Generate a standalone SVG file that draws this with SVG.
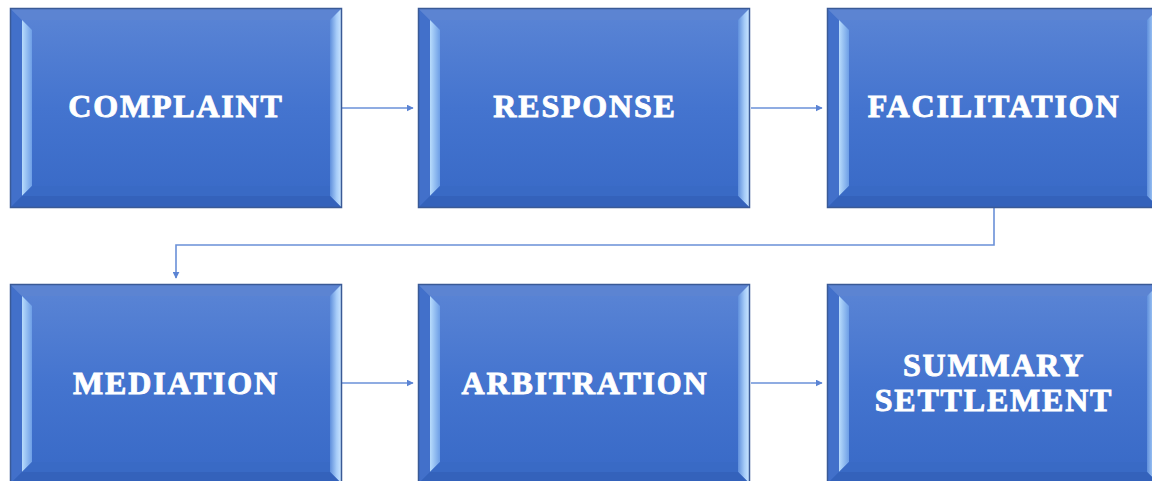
<svg xmlns="http://www.w3.org/2000/svg" width="1152" height="481" viewBox="0 0 1152 481">
<defs>
<linearGradient id="fill" x1="0" y1="0" x2="0" y2="1">
<stop offset="0" stop-color="#5b85d5"/>
<stop offset="0.5" stop-color="#4474cf"/>
<stop offset="1" stop-color="#3869c6"/>
</linearGradient>
<linearGradient id="lite" x1="0" y1="0" x2="1" y2="0">
<stop offset="0" stop-color="#b8dcfc"/>
<stop offset="1" stop-color="#6d9ee6"/>
</linearGradient>
<linearGradient id="liteR" x1="0" y1="0" x2="1" y2="0">
<stop offset="0" stop-color="#5f8fdc"/>
<stop offset="0.6" stop-color="#a6ccf8"/>
<stop offset="1" stop-color="#c8e4ff"/>
</linearGradient>
<marker id="arr" viewBox="0 0 10 10" refX="9" refY="5" markerWidth="7" markerHeight="7" orient="auto" markerUnits="userSpaceOnUse">
<path d="M0,0 L10,5 L0,10 z" fill="#5b84d4"/>
</marker>
<g id="box">
<rect x="0" y="0" width="332" height="200" fill="url(#fill)"/>
<polygon points="1,1 12,12 12,188 1,199" fill="#4270ca"/>
<polygon points="12,12 22,22 22,178 12,188" fill="url(#lite)"/>
<polygon points="1,1 331,1 320,12 12,12" fill="#5c84d2"/>
<polygon points="320,12 331,1 331,199 320,188" fill="url(#liteR)"/>
<polygon points="1,199 12,188 320,188 331,199" fill="#3462bb"/>
<polygon points="12,188 22,178 320,178 320,188" fill="#3a6ac4" opacity="0.8"/>
<rect x="0.5" y="0.5" width="331" height="199" fill="none" stroke="#3a5a96" stroke-width="1.5"/>
</g>
<style>
.t{font-family:"Liberation Serif","Times New Roman",serif;font-weight:bold;font-size:32px;fill:#ffffff;stroke:#ffffff;stroke-width:0.9;text-anchor:middle;letter-spacing:1.8px}
.c{fill:none;stroke:#6a90d8;stroke-width:1.6}
</style>
</defs>
<g id="connectors">
<line class="c" x1="342" y1="108" x2="413" y2="108" marker-end="url(#arr)"/>
<line class="c" x1="751" y1="108" x2="822" y2="108" marker-end="url(#arr)"/>
<polyline class="c" points="994,208 994,245 176,245 176,278" marker-end="url(#arr)"/>
<line class="c" x1="342" y1="383" x2="413" y2="383" marker-end="url(#arr)"/>
<line class="c" x1="751" y1="383" x2="822" y2="383" marker-end="url(#arr)"/>
</g>
<g id="complaint"><use href="#box" x="10" y="8"/><text class="t" x="176" y="117">COMPLAINT</text></g>
<g id="response"><use href="#box" x="418" y="8"/><text class="t" x="585" y="117">RESPONSE</text></g>
<g id="facilitation"><use href="#box" x="827" y="8"/><text class="t" x="994" y="117">FACILITATION</text></g>
<g id="mediation"><use href="#box" x="10" y="284"/><text class="t" x="176" y="394">MEDIATION</text></g>
<g id="arbitration"><use href="#box" x="418" y="284"/><text class="t" x="585" y="394">ARBITRATION</text></g>
<g id="summary-settlement"><use href="#box" x="827" y="284"/><text class="t" x="994" y="376">SUMMARY</text><text class="t" x="994" y="411">SETTLEMENT</text></g>
</svg>
